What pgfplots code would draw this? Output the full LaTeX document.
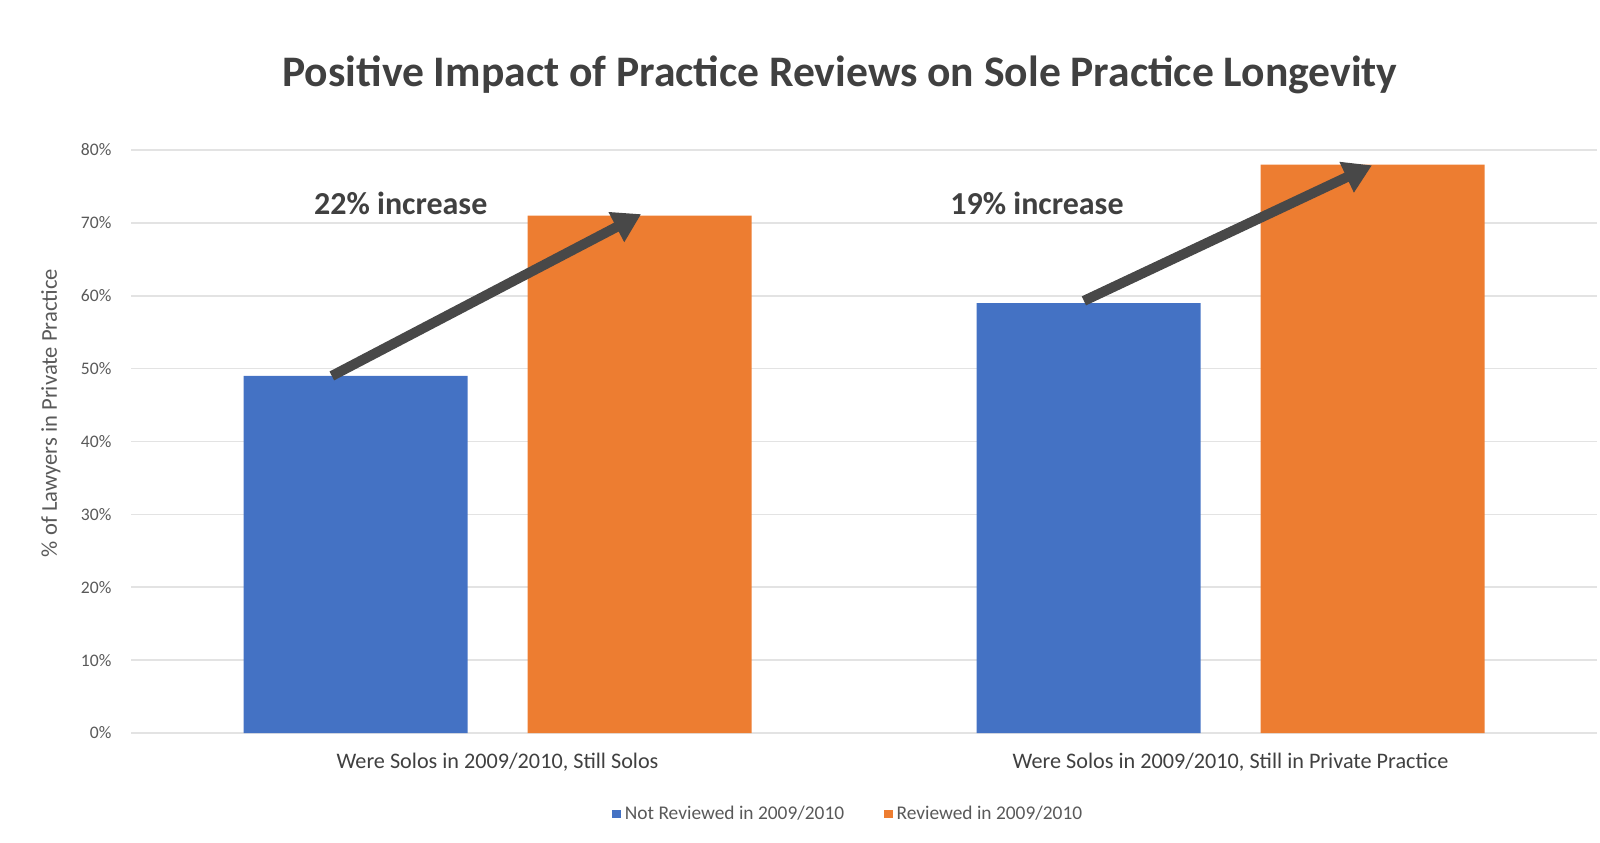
\documentclass[border=0pt]{standalone}
\usepackage{fontspec}
\setmainfont{Carlito}
\usepackage{pgfplots}
\pgfplotsset{compat=1.18}
\usetikzlibrary{arrows.meta}
\definecolor{xlblue}{HTML}{4472C4}
\definecolor{xlorange}{HTML}{ED7D31}
\definecolor{txtgray}{HTML}{595959}
\definecolor{titlegray}{HTML}{404040}
\definecolor{arrowgray}{HTML}{484848}
\definecolor{gridgray}{HTML}{E3E3E3}
\begin{document}
\begin{tikzpicture}
\path[use as bounding box] (-65.5pt,-54.5pt) rectangle (734.5pt,366.5pt);
\begin{axis}[
  scale only axis, width=733pt, height=291.5pt,
  ybar=30pt, bar width=112pt,
  xmin=-0.5, xmax=1.5, ymin=0, ymax=80,
  xtick={0,1},
  xticklabels={{Were Solos in 2009/2010, Still Solos},{Were Solos in 2009/2010, Still in Private Practice}},
  ytick={0,10,...,80},
  yticklabel={\pgfmathprintnumber{\tick}\%},
  /pgf/number format/assume math mode=true,
  major tick length=0pt,
  axis line style={draw=none},
  ymajorgrids, grid style={gridgray, line width=0.8pt},
  xticklabel style={font=\fontsize{11.1}{13}\selectfont, titlegray, yshift=-6.5pt},
  yticklabel style={font=\fontsize{8.8}{10}\selectfont, txtgray, xshift=-6.3pt},
  ylabel={\% of Lawyers in Private Practice},
  ylabel style={at={(axis description cs:-0.0546,0.549)}, anchor=center, font=\fontsize{11.3}{13}\selectfont, txtgray},
  clip=false,
  legend columns=2,
  legend style={at={(axis description cs:0.49,-0.139)}, anchor=center, draw=none, fill=none,
    font=\fontsize{9.7}{11}\selectfont, text=txtgray, /tikz/every even column/.append style={column sep=18pt}},
  legend image code/.code={\fill[#1] (0.3pt,-2pt) rectangle (4.5pt,2.2pt);},
]
\addplot[draw=none, fill=xlblue] coordinates {(0,49) (1,59)};
\addplot[draw=none, fill=xlorange] coordinates {(0,71) (1,78)};
\legend{Not Reviewed in 2009/2010, Reviewed in 2009/2010}
\draw[arrowgray, line width=5pt, -{Triangle[length=14pt,width=16pt]}] (axis cs:-0.226,49) -- (axis cs:0.196,71.2);
\draw[arrowgray, line width=5pt, -{Triangle[length=14pt,width=16pt]}] (axis cs:0.800,59.3) -- (axis cs:1.193,77.9);
\node[font=\fontsize{16}{19}\selectfont\bfseries, titlegray] at (axis cs:-0.132,72.7) {22\% increase};
\node[font=\fontsize{16}{19}\selectfont\bfseries, titlegray] at (axis cs:0.736,72.7) {19\% increase};
\end{axis}
\node[font=\fontsize{21.8}{26}\selectfont\bfseries, titlegray] at (354.5pt,329pt) {Positive Impact of Practice Reviews on Sole Practice Longevity};
\end{tikzpicture}
\end{document}
